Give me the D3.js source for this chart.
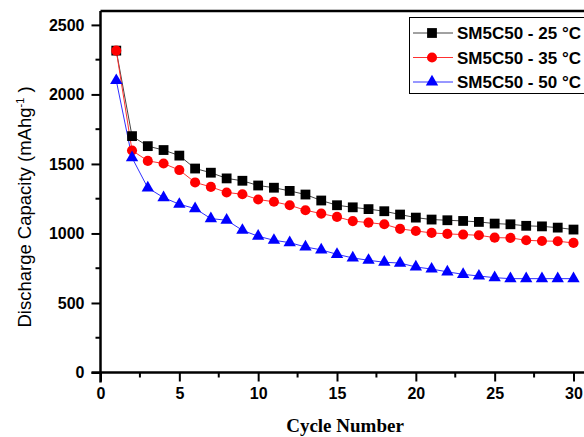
<!DOCTYPE html>
<html>
<head>
<meta charset="utf-8">
<script src="https://cdn.jsdelivr.net/npm/d3@7"></script>
<style>
  html, body { margin: 0; padding: 0; background: #fff; }
  svg { display: block; }
  .tick text { font-family: Arial, "Liberation Sans", sans-serif; font-weight: bold; font-size: 16px; fill: #000; }
</style>
</head>
<body>
<div class="chart"></div>
<script>
// cycle number on x, discharge capacity (mAh/g) on y
const cycles = [1, 2, 3, 4, 5, 6, 7, 8, 9, 10, 11, 12, 13, 14, 15, 16, 17, 18, 19, 20, 21, 22, 23, 24, 25, 26, 27, 28, 29, 30];
const cap25 = [2315, 1700, 1628, 1600, 1560, 1467, 1437, 1396, 1379, 1345, 1329, 1306, 1280, 1237, 1203, 1188, 1175, 1160, 1136, 1114, 1100, 1095, 1090, 1083, 1071, 1066, 1055, 1051, 1042, 1028];
const cap35 = [2315, 1597, 1522, 1503, 1456, 1367, 1335, 1295, 1282, 1244, 1228, 1203, 1167, 1143, 1119, 1089, 1078, 1066, 1033, 1018, 1004, 997, 992, 987, 970, 968, 951, 946, 944, 932];
const cap50 = [2100, 1545, 1328, 1258, 1210, 1179, 1107, 1095, 1023, 980, 951, 934, 903, 882, 850, 824, 807, 793, 787, 759, 744, 724, 706, 694, 682, 675, 675, 675, 675, 675];
const seriesNames = ['SM5C50 - 25 °C', 'SM5C50 - 35 °C', 'SM5C50 - 50 °C'];
const xTicks = [0, 5, 10, 15, 20, 25, 30];
const yTicks = [0, 500, 1000, 1500, 2000, 2500];

const W = 584, H = 437;
const margin = { top: 11, left: 100.5 };
const x0 = 100.5, x30 = 573.5;

const svg = d3.select('.chart').append('svg')
  .attr('width', W).attr('height', H);

const xScale = d3.scaleLinear().domain([0, 30]).range([x0, x30]);
const yScale = d3.scaleLinear().domain([0, 2600]).range([372.5, margin.top]);

const series = [
  { name: seriesNames[0], values: cap25, color: '#000000', line: '#444', symbol: d3.symbolSquare, size: 96 },
  { name: seriesNames[1], values: cap35, color: '#ff0000', line: '#ff3030', symbol: d3.symbolCircle, size: 80 },
  { name: seriesNames[2], values: cap50, color: '#0000ff', line: '#3030ff', symbol: d3.symbolTriangle, size: 66 }
];

// frame top line (right side is cut off in the picture)
svg.append('line')
  .attr('x1', x0).attr('x2', W + 5)
  .attr('y1', margin.top).attr('y2', margin.top)
  .attr('stroke', '#000').attr('stroke-width', 2.5);

// minor ticks
const yMinor = d3.range(250, 2600, 500);
const xMinor = d3.range(2.5, 31, 5);
svg.append('g').selectAll('line').data(yMinor).join('line')
  .attr('x1', x0 - 5).attr('x2', x0)
  .attr('y1', d => yScale(d)).attr('y2', d => yScale(d))
  .attr('stroke', '#000').attr('stroke-width', 2);
svg.append('g').selectAll('line').data(xMinor).join('line')
  .attr('x1', d => xScale(d)).attr('x2', d => xScale(d))
  .attr('y1', yScale(0)).attr('y2', yScale(0) + 5)
  .attr('stroke', '#000').attr('stroke-width', 2);

const xAxis = d3.axisBottom(xScale).tickValues(xTicks).tickSize(9).tickPadding(6).tickFormat(d3.format('d'));
const gx = svg.append('g')
  .attr('transform', `translate(0, ${yScale(0)})`)
  .call(xAxis);
gx.select('.domain').attr('d', `M${x0 - 9},0H${W + 5}`);

const yAxis = d3.axisLeft(yScale).tickValues(yTicks).tickSize(9).tickPadding(7).tickFormat(d3.format('d'));
const gy = svg.append('g')
  .attr('transform', `translate(${x0}, 0)`)
  .call(yAxis);
gy.select('.domain').attr('d', `M0,${margin.top}V${yScale(0) + 10}`);

[gx, gy].forEach(g => {
  g.selectAll('.domain').attr('stroke', '#000').attr('stroke-width', 2.5);
  g.selectAll('.tick line').attr('stroke', '#000').attr('stroke-width', 2);
});

// axis titles
svg.append('text')
  .attr('x', 345).attr('y', 432)
  .attr('text-anchor', 'middle')
  .style('font-family', '"Liberation Serif", "Times New Roman", serif')
  .style('font-weight', 'bold').style('font-size', '19px')
  .text('Cycle Number');

const yl = svg.append('text')
  .attr('transform', 'translate(31, 207) rotate(-90)')
  .attr('text-anchor', 'middle')
  .style('font-family', 'Arial, "Liberation Sans", sans-serif')
  .style('font-size', '18.5px');
yl.append('tspan').text('Discharge Capacity (mAhg');
yl.append('tspan').attr('dy', -7).style('font-size', '11px').text('-1');
yl.append('tspan').attr('dy', 7).text(' )');

// lines and markers
const line = d3.line().x((d, i) => xScale(cycles[i])).y(d => yScale(d));
series.forEach(s => {
  svg.append('path')
    .datum(s.values)
    .attr('fill', 'none')
    .attr('stroke', s.line)
    .attr('stroke-width', 1)
    .attr('d', line);
});
series.forEach(s => {
  svg.append('g').selectAll('path').data(s.values).join('path')
    .attr('transform', (d, i) => `translate(${xScale(cycles[i])}, ${yScale(d)})`)
    .attr('d', d3.symbol().type(s.symbol).size(s.size))
    .attr('fill', s.color);
});

// legend
const lg = svg.append('g');
lg.append('rect')
  .attr('x', 409.5).attr('y', 17.5).attr('width', 200).attr('height', 76)
  .attr('fill', '#fff').attr('stroke', '#000').attr('stroke-width', 1);
series.forEach((s, i) => {
  const ly = 33 + i * 24.5;
  lg.append('line')
    .attr('x1', 413).attr('x2', 453).attr('y1', ly).attr('y2', ly)
    .attr('stroke', s.line).attr('stroke-width', 1);
  lg.append('path')
    .attr('transform', `translate(432, ${ly})`)
    .attr('d', d3.symbol().type(s.symbol).size(s.size))
    .attr('fill', s.color);
  lg.append('text')
    .attr('x', 457).attr('y', ly + 6)
    .style('font-family', 'Arial, "Liberation Sans", sans-serif')
    .style('font-weight', 'bold').style('font-size', '17px')
    .text(s.name);
});
</script>
</body>
</html>
